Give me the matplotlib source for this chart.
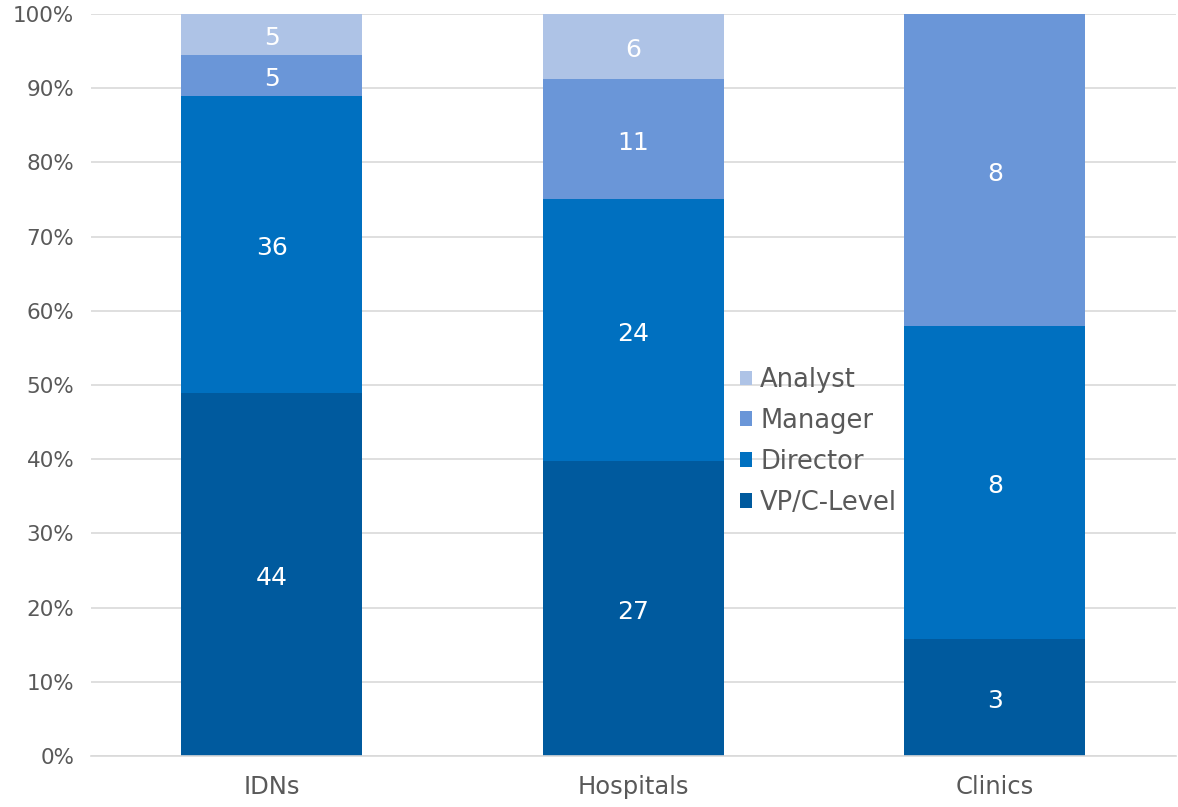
import matplotlib

matplotlib.use("Agg")

import matplotlib.pyplot as plt
import numpy as np
from matplotlib.ticker import PercentFormatter

categories = ["IDNs", "Hospitals", "Clinics"]
roles = ["VP/C-Level", "Director", "Manager", "Analyst"]
vp_level = [44, 27, 3]
director = [36, 24, 8]
manager = [5, 11, 8]
analyst = [5, 6, 0]

colors = ["#005A9E", "#0070C0", "#6A96D8", "#AEC3E6"]
text_grey = "#595959"

counts = np.array([vp_level, director, manager, analyst], dtype=float)
shares = counts / counts.sum(axis=0) * 100

fig = plt.figure(figsize=(11.78, 8.07), dpi=100)
ax = fig.add_axes([0.0773, 0.0632, 0.9207, 0.9195])

x = np.arange(len(categories))
bottom = np.zeros(len(categories))
handles = []
for i, role in enumerate(roles):
    bars = ax.bar(x, shares[i], width=0.5, bottom=bottom, color=colors[i], label=role, zorder=2)
    handles.append(bars)
    for j, val in enumerate(counts[i]):
        if val > 0:
            ax.annotate(f"{int(val)}", (x[j], bottom[j] + shares[i][j] / 2),
                        xytext=(0, -2.5), textcoords="offset points",
                        ha="center", va="center", color="white", fontsize=18, zorder=3)
    bottom += shares[i]

ax.set_xlim(-0.5, len(categories) - 0.5)
ax.set_ylim(0, 100)
ax.set_yticks(np.arange(0, 101, 10))
ax.yaxis.set_major_formatter(PercentFormatter(decimals=0))
ax.set_xticks(x)
ax.set_xticklabels(categories)
ax.grid(axis="y", color="#D9D9D9", linewidth=1.2, zorder=0)
ax.set_axisbelow(True)
for side in ["top", "right", "left"]:
    ax.spines[side].set_visible(False)
ax.spines["bottom"].set_color("#D9D9D9")
ax.spines["bottom"].set_linewidth(1.2)
ax.tick_params(axis="both", length=0, labelcolor=text_grey)
ax.tick_params(axis="y", labelsize=15.5, pad=12)
ax.tick_params(axis="x", labelsize=17.5, pad=14)

leg = ax.legend(handles[::-1], roles[::-1], loc="center left", bbox_to_anchor=(0.598, 0.424),
                frameon=False, fontsize=18.5, handlelength=0.5, handleheight=0.5,
                handletextpad=0.3, labelspacing=0.58, borderaxespad=0, borderpad=0)
for t in leg.get_texts():
    t.set_color(text_grey)

fig.savefig("out.png", dpi=100)
